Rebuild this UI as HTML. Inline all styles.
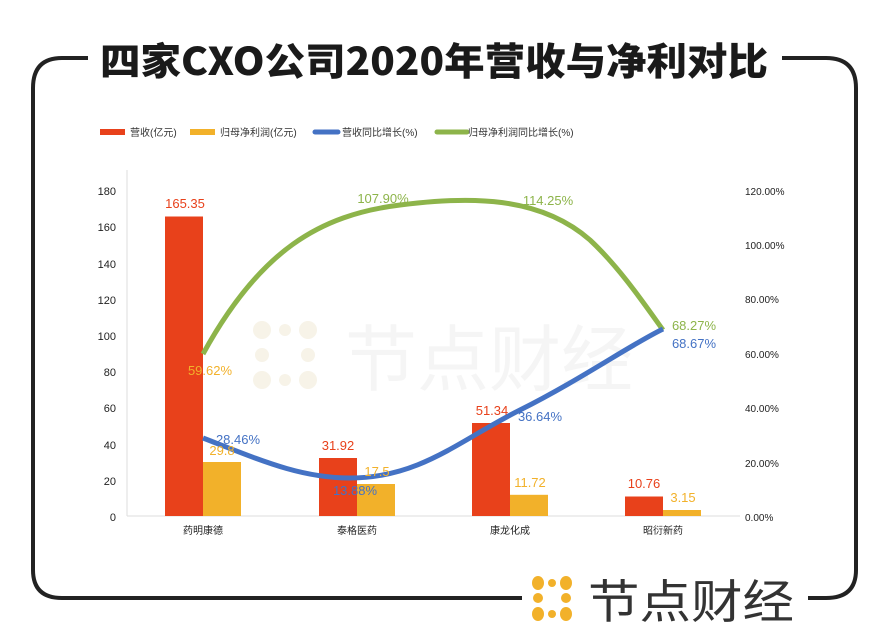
<!DOCTYPE html>
<html><head><meta charset="utf-8"><style>
body{margin:0;background:#fff;width:876px;height:639px;overflow:hidden;font-family:"Liberation Sans","Noto Sans CJK SC",sans-serif;}
</style></head><body>
<svg width="876" height="639" viewBox="0 0 876 639" xmlns="http://www.w3.org/2000/svg" font-family="Liberation Sans, Noto Sans CJK SC, sans-serif">
<!-- frame -->
<path d="M88 58 H62 Q33 58 33 88 V570 Q33 598 62 598 H522" fill="none" stroke="#222" stroke-width="4"/>
<path d="M782 58 H826 Q856 58 856 88 V570 Q856 598 826 598 H808" fill="none" stroke="#222" stroke-width="4"/>
<text x="100" y="75" textLength="668" lengthAdjust="spacingAndGlyphs" font-size="38" font-weight="900" fill="#1a1a1a" font-family="Noto Sans CJK SC, sans-serif">四家CXO公司2020年营收与净利对比</text>
<!-- watermark -->
<text x="345" y="385" font-size="72" fill="#f5f5f5" font-family="Noto Sans CJK SC, sans-serif">节点财经</text>
<g fill="#f7f3e8">
<circle cx="262" cy="330" r="9"/><circle cx="262" cy="355" r="7"/><circle cx="262" cy="380" r="9"/>
<circle cx="308" cy="330" r="9"/><circle cx="308" cy="355" r="7"/><circle cx="308" cy="380" r="9"/>
<circle cx="285" cy="330" r="6"/><circle cx="285" cy="380" r="6"/>
</g>
<!-- legend -->
<g font-size="10" fill="#333">
<rect x="100" y="129" width="25" height="6" fill="#e8411b"/><text x="130" y="136">营收(亿元)</text>
<rect x="190" y="129" width="25" height="6" fill="#f2b12a"/><text x="220" y="136">归母净利润(亿元)</text>
<line x1="315" y1="132" x2="338" y2="132" stroke="#4472c4" stroke-width="5" stroke-linecap="round"/><text x="342" y="136">营收同比增长(%)</text>
<line x1="437" y1="132" x2="467" y2="132" stroke="#8db44a" stroke-width="5" stroke-linecap="round"/><text x="468" y="136">归母净利润同比增长(%)</text>
</g>
<!-- axes -->
<line x1="127" y1="170" x2="127" y2="516" stroke="#ddd"/>
<line x1="127" y1="516" x2="740" y2="516" stroke="#ddd"/>
<g font-size="11" fill="#222" text-anchor="end">
<text x="116" y="195">180</text><text x="116" y="231">160</text><text x="116" y="268">140</text><text x="116" y="304">120</text><text x="116" y="340">100</text><text x="116" y="376">80</text><text x="116" y="412">60</text><text x="116" y="449">40</text><text x="116" y="485">20</text><text x="116" y="521">0</text>
</g>
<g font-size="10" fill="#222">
<text x="745" y="195">120.00%</text><text x="745" y="249">100.00%</text><text x="745" y="303">80.00%</text><text x="745" y="358">60.00%</text><text x="745" y="412">40.00%</text><text x="745" y="467">20.00%</text><text x="745" y="521">0.00%</text>
</g>
<!-- bars -->
<g fill="#e8411b">
<rect x="165" y="216.5" width="38" height="299.5"/><rect x="319" y="458" width="38" height="58"/><rect x="472" y="423" width="38" height="93"/><rect x="625" y="496.5" width="38" height="19.5"/>
</g>
<g fill="#f2b12a">
<rect x="203" y="462" width="38" height="54"/><rect x="357" y="484" width="38" height="32"/><rect x="510" y="494.8" width="38" height="21.2"/><rect x="663" y="510" width="38" height="6"/>
</g>
<g font-size="10" fill="#222" text-anchor="middle">
<text x="203" y="534">药明康德</text><text x="357" y="534">泰格医药</text><text x="510" y="534">康龙化成</text><text x="663" y="534">昭衍新药</text>
</g>
<!-- lines -->
<path d="M203 354 C260 250 320 215 400 205 C470 196 540 196 590 240 C620 268 645 305 663 330" fill="none" stroke="#8db44a" stroke-width="5"/>
<path d="M203 438 C260 460 300 478 350 478 C420 478 460 440 520 410 C580 380 630 345 663 329" fill="none" stroke="#4472c4" stroke-width="5"/>
<!-- labels -->
<g font-size="13" text-anchor="middle">
<text x="185" y="208" fill="#e8411b">165.35</text>
<text x="222" y="455" fill="#f2b12a">29.8</text>
<text x="338" y="450" fill="#e8411b">31.92</text>
<text x="377" y="476" fill="#f2b12a">17.5</text>
<text x="492" y="415" fill="#e8411b">51.34</text>
<text x="530" y="487" fill="#f2b12a">11.72</text>
<text x="644" y="488" fill="#e8411b">10.76</text>
<text x="683" y="502" fill="#f2b12a">3.15</text>
<text x="210" y="375" fill="#f2b12a">59.62%</text>
<text x="383" y="203" fill="#8db44a">107.90%</text>
<text x="548" y="205" fill="#8db44a">114.25%</text>
<text x="694" y="330" fill="#8db44a">68.27%</text>
<text x="694" y="348" fill="#4472c4">68.67%</text>
<text x="238" y="444" fill="#4472c4">28.46%</text>
<text x="355" y="495" fill="#4472c4">13.88%</text>
<text x="540" y="421" fill="#4472c4">36.64%</text>
</g>
<!-- logo -->
<g fill="#f2b12a">
<ellipse cx="538" cy="583" rx="6" ry="7"/><circle cx="538" cy="598" r="5"/><ellipse cx="538" cy="614" rx="6" ry="7"/>
<ellipse cx="566" cy="583" rx="6" ry="7"/><circle cx="566" cy="598" r="5"/><ellipse cx="566" cy="614" rx="6" ry="7"/>
<circle cx="552" cy="583" r="4"/><circle cx="552" cy="614" r="4"/>
</g>
<text x="588" y="618" textLength="206" lengthAdjust="spacingAndGlyphs" font-size="46" fill="#333" font-family="Noto Sans CJK SC, sans-serif">节点财经</text>
</svg>
</body></html>
